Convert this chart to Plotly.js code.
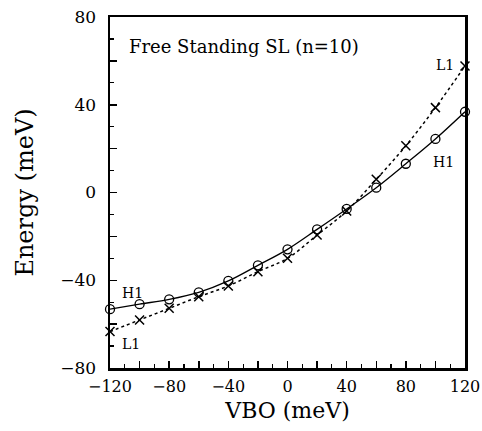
<!DOCTYPE html>
<html><head><meta charset="utf-8">
<script src="https://cdn.plot.ly/plotly-3.0.1.min.js"></script>
<style>html,body{margin:0;padding:0;background:#fff}</style>
</head><body>
<div id="chart" style="width:482px;height:431px"></div>
<script>
const vbo = [-120,-100,-80,-60,-40,-20,0,20,40,60,80,100,120];
const h1 = [-53.2,-50.9,-48.7,-45.5,-40.3,-33.2,-25.9,-16.8,-7.5,2.2,13.1,24.4,36.8];
const l1 = [-63.4,-58.1,-52.8,-47.5,-42.6,-36.1,-30.0,-19.4,-8.4,6.0,21.3,38.7,57.7];
const xTickVals = [-120,-100,-80,-60,-40,-20,0,20,40,60,80,100,120];
const xTickText = ['−120','','−80','','−40','','0','','40','','80','','120'];
const yTickVals = [-80,-60,-40,-20,0,20,40,60,80];
const yTickText = ['−80','','−40','','0','','40','','80'];

const F = 'DejaVu Serif, Liberation Serif, serif';
const traces = [
  {x: vbo, y: l1, mode:'lines+markers', line:{color:'#000', width:1.5, dash:'dot', shape:'spline'},
   marker:{symbol:'x-thin', size:9, line:{color:'#000', width:1.5}}, cliponaxis:false, showlegend:false},
  {x: vbo, y: h1, mode:'lines+markers', line:{color:'#000', width:1.3, shape:'spline'},
   marker:{symbol:'circle-open', size:9, color:'#000', line:{color:'#000', width:1.3}}, cliponaxis:false, showlegend:false}
];
const layout = {
  width:482, height:431,
  margin:{l:110, r:17, t:17, b:63},
  paper_bgcolor:'#fff', plot_bgcolor:'#fff',
  font:{family:F, color:'#000'},
  xaxis:{range:[-120,120], tickvals:xTickVals, ticktext:xTickText, ticks:'inside', ticklen:7, tickwidth:1.5, tickcolor:'#000',
    minor:{dtick:10, tick0:0, ticks:'inside', ticklen:4, tickwidth:1.2, tickcolor:'#000'},
    showline:true, linewidth:2.5, linecolor:'#000', mirror:true, showgrid:false, zeroline:false,
    ticklabeloverflow:'allow', ticklabelstandoff:2,
    tickfont:{family:F, size:16}, title:{text:'VBO (meV)', font:{family:F, size:22}, standoff:8}},
  yaxis:{range:[-80,80], tickvals:yTickVals, ticktext:yTickText, ticks:'inside', ticklen:7, tickwidth:1.5, tickcolor:'#000',
    minor:{dtick:10, tick0:0, ticks:'inside', ticklen:4, tickwidth:1.2, tickcolor:'#000'},
    showline:true, linewidth:2.5, linecolor:'#000', mirror:true, showgrid:false, zeroline:false,
    ticklabeloverflow:'allow', ticklabelstandoff:8,
    tickfont:{family:F, size:17}, title:{text:'Energy (meV)', font:{family:F, size:24}, standoff:20}},
  annotations:[
    {xref:'paper', yref:'paper', x:0.048, y:0.915, xanchor:'left', yanchor:'middle', text:'Free Standing SL (n=10)', showarrow:false, font:{family:F, size:18}},
    {xref:'x', yref:'y', x:114, y:58, xanchor:'right', yanchor:'middle', text:'L1', showarrow:false, font:{family:F, size:14}},
    {xref:'x', yref:'y', x:114, y:14, xanchor:'right', yanchor:'middle', text:'H1', showarrow:false, font:{family:F, size:14}},
    {xref:'x', yref:'y', x:-113, y:-46, xanchor:'left', yanchor:'middle', text:'H1', showarrow:false, font:{family:F, size:14}},
    {xref:'x', yref:'y', x:-113, y:-69, xanchor:'left', yanchor:'middle', text:'L1', showarrow:false, font:{family:F, size:14}}
  ]
};
Plotly.newPlot('chart', traces, layout, {displayModeBar:false, staticPlot:true});
</script>
</body></html>
